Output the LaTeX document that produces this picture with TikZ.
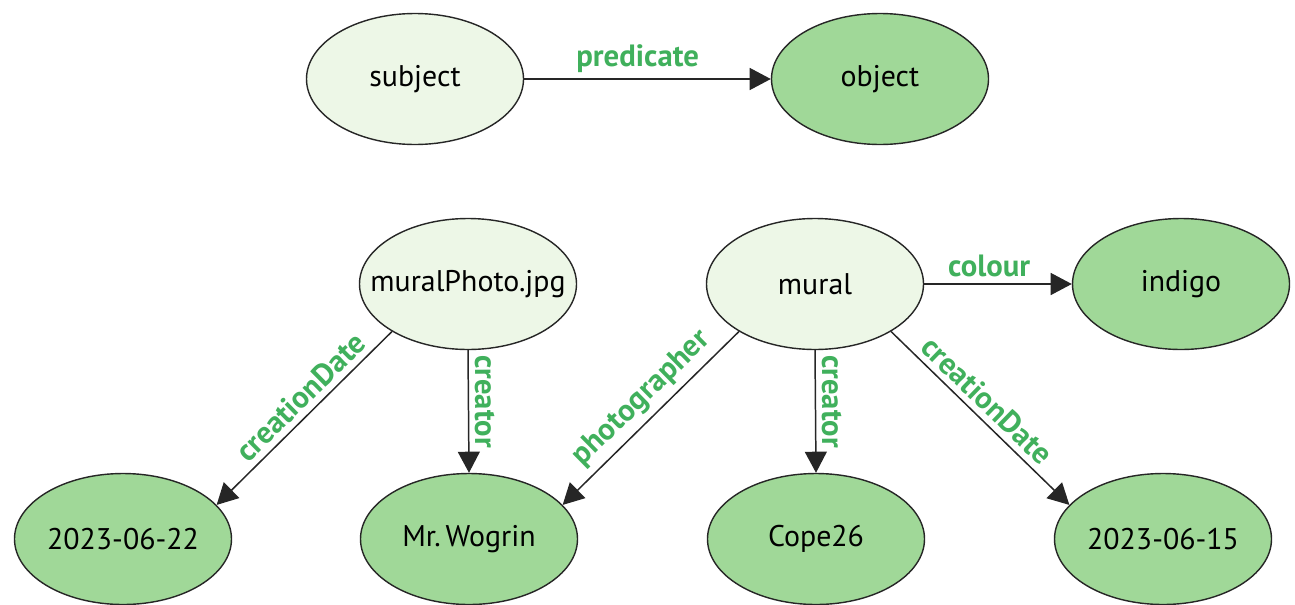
\documentclass[tikz,border=0pt]{standalone}
\usepackage{mathtools}
\usepackage{fontspec}
\setmainfont{PT Sans}
\usepackage{tikz}
\usetikzlibrary{arrows.meta,shapes.geometric}

\definecolor{palegreen}{RGB}{237,247,231}
\definecolor{leafgreen}{RGB}{160,216,152}
\definecolor{propgreen}{RGB}{64,176,92}

\begin{document}
\begin{tikzpicture}[
    resource/.style={ellipse, draw=black!85, line width=0.8pt, fill=palegreen, minimum width=4.34cm, minimum height=2.62cm, inner sep=0pt, font=\fontsize{17}{20}\selectfont},
    literal/.style={resource, fill=leafgreen},
    prop/.style={font=\fontsize{17.5}{20}\selectfont\bfseries, text=propgreen},
    link/.style={line width=0.85pt, draw=black!85, -{Triangle[length=12pt,width=12.5pt]}}
  ]
  \useasboundingbox (0,0) rectangle (25.9,12.08);

  % triple pattern
  \node[resource] (subject) at (8.3,10.5) {\clap{subject}};
  \node[literal] (object) at (17.6,10.5) {\clap{object}};
  \draw[link] (subject) -- (object) node[pos=0.46,above,prop]{predicate};

  % subjects
  \node[resource] (photo) at (9.36,6.4) {\clap{muralPhoto.jpg}};
  \node[resource] (mural) at (16.3,6.4) {\clap{mural}};
  \node[literal] (indigo) at (23.62,6.4) {\clap{indigo}};

  % objects
  \node[literal] (date22) at (2.46,1.3) {\clap{2023-06-22}};
  \node[literal] (wogrin) at (9.38,1.3) {\clap{Mr.\,Wogrin}};
  \node[literal] (cope) at (16.32,1.3) {\clap{Cope26}};
  \node[literal] (date15) at (23.26,1.3) {\clap{2023-06-15}};

  % muralPhoto.jpg
  \draw[link] (photo.212.5) -- (date22.20) node[pos=0.45,above,sloped,prop]{creationDate};
  \draw[link] (photo.south) -- (wogrin.north) node[pos=0.42,above,sloped,prop]{creator};

  % mural
  \draw[link] (mural) -- (indigo) node[pos=0.44,above,prop]{colour};
  \draw[link] (mural.212.5) -- (wogrin.20) node[pos=0.47,above,sloped,prop]{photographer};
  \draw[link] (mural.south) -- (cope.north) node[pos=0.42,above,sloped,prop]{creator};
  \draw[link] (mural.-32.5) -- (date15.160) node[pos=0.47,above,sloped,prop]{creationDate};
\end{tikzpicture}
\end{document}
